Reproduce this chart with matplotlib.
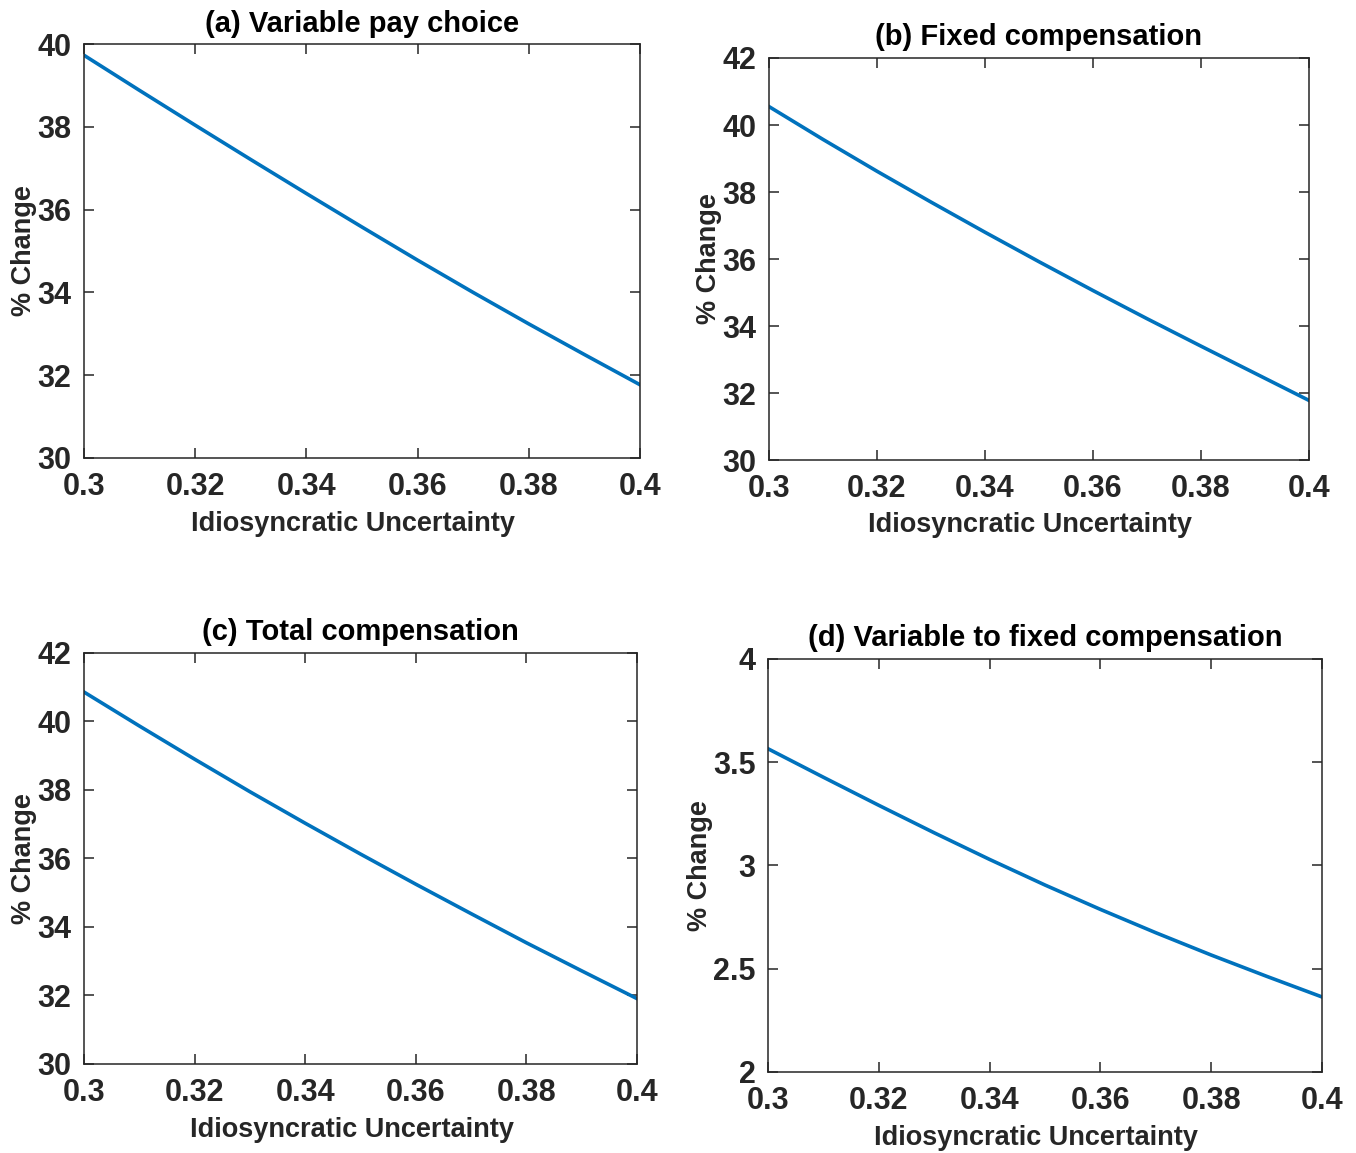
import matplotlib.pyplot as plt

plt.rcParams['font.family'] = ['Liberation Sans', 'DejaVu Sans']
plt.rcParams['font.weight'] = 'bold'

# Idiosyncratic uncertainty grid
sigma = [0.30, 0.31, 0.32, 0.33, 0.34, 0.35, 0.36, 0.37, 0.38, 0.39, 0.40]

# % change
var_pay = [39.73, 38.88, 38.04, 37.21, 36.39, 35.58, 34.78, 34.00, 33.24, 32.50, 31.77]
fixed_comp = [40.55, 39.57, 38.62, 37.70, 36.80, 35.92, 35.06, 34.22, 33.40, 32.59, 31.78]
total_comp = [40.86, 39.87, 38.90, 37.95, 37.03, 36.13, 35.25, 34.39, 33.54, 32.72, 31.91]
var_to_fixed = [3.565, 3.427, 3.291, 3.158, 3.029, 2.905, 2.787, 2.674, 2.566, 2.463, 2.363]

titles = ['(a) Variable pay choice', '(b) Fixed compensation',
          '(c) Total compensation', '(d) Variable to fixed compensation']
series = [var_pay, fixed_comp, total_comp, var_to_fixed]
ylims = [(30, 40), (30, 42), (30, 42), (2, 4)]
yticks = [[30, 32, 34, 36, 38, 40], [30, 32, 34, 36, 38, 40, 42],
          [30, 32, 34, 36, 38, 40, 42], [2, 2.5, 3, 3.5, 4]]
ylabs = [['30', '32', '34', '36', '38', '40'],
         ['30', '32', '34', '36', '38', '40', '42'],
         ['30', '32', '34', '36', '38', '40', '42'],
         ['2', '2.5', '3', '3.5', '4']]
xticks = [0.3, 0.32, 0.34, 0.36, 0.38, 0.4]
xlabs = ['0.3', '0.32', '0.34', '0.36', '0.38', '0.4']

# axes boxes [left, bottom, width, height] in figure fractions
boxes = [[0.0619, 0.6028, 0.4100, 0.3590],
         [0.5671, 0.6010, 0.3982, 0.3487],
         [0.0619, 0.0772, 0.4078, 0.3565],
         [0.5664, 0.0703, 0.4086, 0.3582]]

txt = '#262626'
fig = plt.figure(figsize=(13.56, 11.53), dpi=100)

for i in range(4):
    ax = fig.add_axes(boxes[i])
    ax.plot(sigma, series[i], color='#0072BD', linewidth=2.6)
    ax.set_xlim(0.3, 0.4)
    ax.set_ylim(*ylims[i])
    ax.set_xticks(xticks)
    ax.set_xticklabels(xlabs)
    ax.set_yticks(yticks[i])
    ax.set_yticklabels(ylabs[i])
    ax.tick_params(direction='in', top=True, right=True, length=7, width=1.1,
                   labelsize=22, colors=txt)
    ax.tick_params(axis='x', pad=10)
    ax.tick_params(axis='y', pad=9)
    for lab in ax.get_xticklabels() + ax.get_yticklabels():
        lab.set_fontweight('bold')
    for s in ax.spines.values():
        s.set_color(txt)
        s.set_linewidth(1.1)
    ax.set_title(titles[i], fontsize=21, fontweight='bold', color='black', pad=9)
    ax.set_xlabel('Idiosyncratic Uncertainty', fontsize=19.5, fontweight='bold',
                  color=txt)
    ax.set_ylabel('% Change', fontsize=19.5, fontweight='bold', color=txt, labelpad=0)
    ax.xaxis.set_label_coords(0.484, -0.128)

fig.savefig('out.png', dpi=100)
